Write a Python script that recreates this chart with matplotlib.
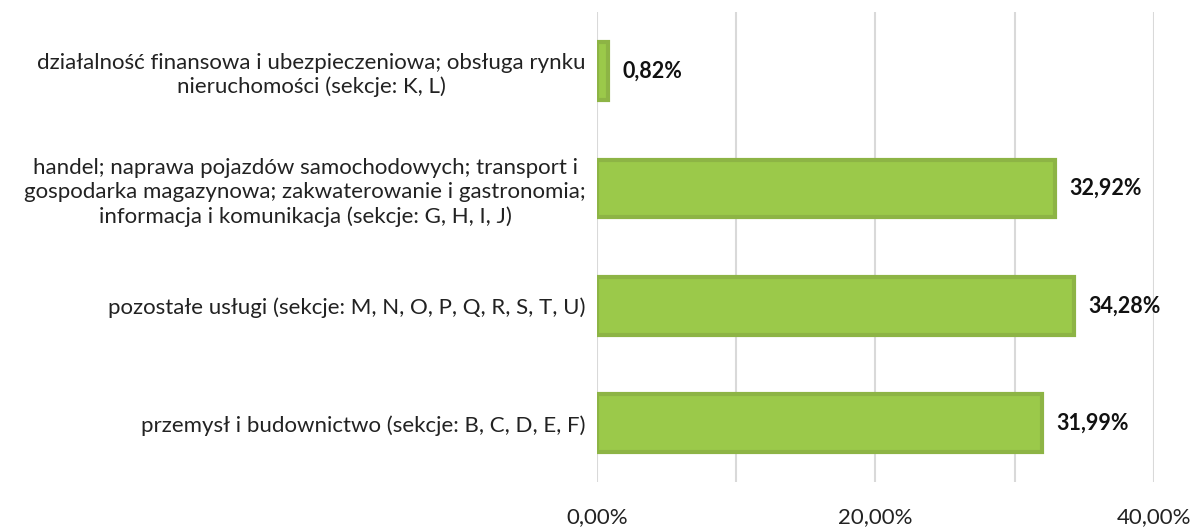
import matplotlib
matplotlib.use("Agg")
import matplotlib.pyplot as plt
import numpy as np

# categories from bottom to top
categories = [
    "przemysł i budownictwo (sekcje: B, C, D, E, F)",
    "pozostałe usługi (sekcje: M, N, O, P, Q, R, S, T, U)",
    "handel; naprawa pojazdów samochodowych; transport i\ngospodarka magazynowa; zakwaterowanie i gastronomia;\ninformacja i komunikacja (sekcje: G, H, I, J)",
    "działalność finansowa i ubezpieczeniowa; obsługa rynku\nnieruchomości (sekcje: K, L)",
]
values = [31.99, 34.28, 32.92, 0.82]
value_labels = ["31,99%", "34,28%", "32,92%", "0,82%"]
tick_vals = [0, 20, 40]
tick_labels = ["0,00%", "20,00%", "40,00%"]
grid_vals = [10, 30]

plt.rcParams['font.family'] = ['Lato', 'DejaVu Sans']

fig = plt.figure(figsize=(12, 5.3), dpi=100)
ax = fig.add_axes([0.4975, 0.0906, 0.464, 0.8864])

y = np.arange(len(categories))
ax.barh(y, values, height=0.49, color="#9BC94A", edgecolor="#8DB445",
        linewidth=3, zorder=3)

for yi, v, lab in zip(y, values, value_labels):
    ax.text(v + 1.0, yi, lab, va="center", ha="left", fontsize=15.5,
            fontweight="bold", color="#111111")

ax.set_xlim(0, 40)
ax.set_ylim(-0.5, 3.5)
ax.set_xticks(tick_vals)
ax.set_xticklabels(tick_labels, fontsize=16, color="#222222")
ax.set_xticks(grid_vals, minor=True)
ax.set_yticks(y)
ax.set_yticklabels(categories, fontsize=16, color="#222222", linespacing=1.25)
ax.tick_params(axis="both", which="both", length=0)
ax.tick_params(axis="x", which="both", pad=18)
ax.tick_params(axis="y", pad=8)
for lab in ax.get_yticklabels():
    lab.set_horizontalalignment("right")
    lab.set_multialignment("center")

ax.grid(axis="x", which="both", color="#D9D9D9", linewidth=1.5, zorder=0)
for s in ax.spines.values():
    s.set_visible(False)

fig.savefig("out.png", dpi=100)
